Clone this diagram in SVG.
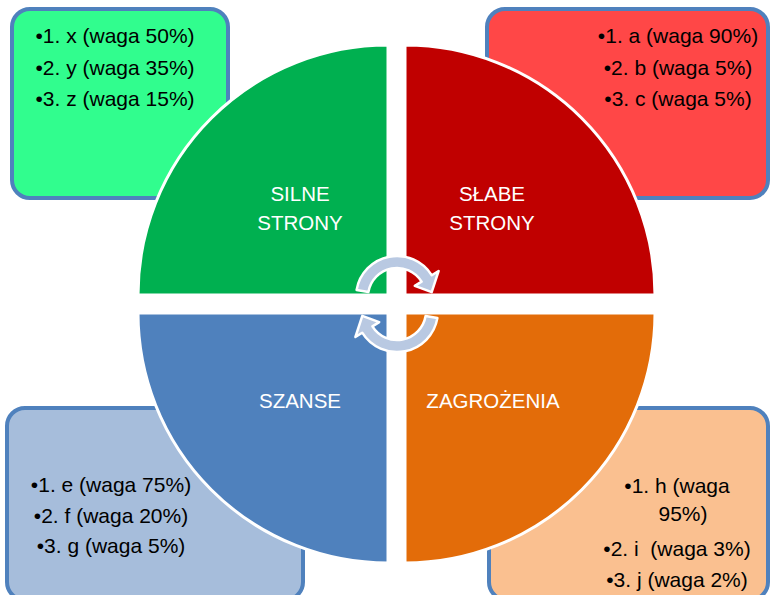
<svg xmlns="http://www.w3.org/2000/svg" width="770" height="595" viewBox="0 0 770 595">
  <style>
    .box { stroke: #4F81BD; stroke-width: 4; }
    .q { stroke: #FFFFFF; stroke-width: 3; stroke-linejoin: miter; }
    .t { font-family: "Liberation Sans", Arial, sans-serif; font-size: 21px; fill: #000000; text-anchor: middle; }
    .w { font-family: "Liberation Sans", Arial, sans-serif; font-size: 20.5px; fill: #FFFFFF; text-anchor: middle; }
    .arr { fill: #B9C9E2; stroke: #FFFFFF; stroke-width: 2.5; stroke-linejoin: round; }
  </style>
  <defs>
    <path id="carrow" d="M 356.6,289.9 A 41 41 0 0 1 431.8,275.3 L 438.6,271.0 L 431.7,292.1 L 414.8,285.9 L 421.6,281.6 A 29 29 0 0 0 368.4,292.0 Z"/>
  </defs>
  <rect width="770" height="595" fill="#FFFFFF"/>

  <g id="box-strengths">
    <rect class="box" x="12" y="9" width="216" height="189" rx="18" fill="#31FD8E"/>
    <text class="t" x="115" y="43">•1. x (waga 50%)</text>
    <text class="t" x="115" y="75">•2. y (waga 35%)</text>
    <text class="t" x="115" y="106">•3. z (waga 15%)</text>
  </g>
  <g id="box-weaknesses">
    <rect class="box" x="487" y="9" width="281" height="189" rx="18" fill="#FF4747"/>
    <text class="t" x="678" y="43">•1. a (waga 90%)</text>
    <text class="t" x="678" y="75">•2. b (waga 5%)</text>
    <text class="t" x="678" y="106">•3. c (waga 5%)</text>
  </g>
  <g id="box-opportunities">
    <rect class="box" x="7" y="408" width="296" height="192" rx="18" fill="#A6BDDB"/>
    <text class="t" x="111" y="492">•1. e (waga 75%)</text>
    <text class="t" x="111" y="523">•2. f (waga 20%)</text>
    <text class="t" x="111" y="553">•3. g (waga 5%)</text>
  </g>
  <g id="box-threats">
    <rect class="box" x="489" y="408" width="279" height="192" rx="18" fill="#FAC090"/>
    <text class="t" x="677" y="493">•1. h (waga</text>
    <text class="t" x="683" y="521">95%)</text>
    <text class="t" x="677" y="556" xml:space="preserve">•2. i  (waga 3%)</text>
    <text class="t" x="677" y="587">•3. j (waga 2%)</text>
  </g>

  <g id="q-strengths">
    <path class="q" d="M388,295 L138,295 A250,250 0 0 1 388,45 Z" fill="#00B050"/>
    <text class="w" x="300" y="201">SILNE</text>
    <text class="w" x="300" y="230">STRONY</text>
  </g>
  <g id="q-weaknesses">
    <path class="q" d="M405,295 L405,45 A250,250 0 0 1 655,295 Z" fill="#C00000"/>
    <text class="w" x="492" y="201">SŁABE</text>
    <text class="w" x="492" y="230">STRONY</text>
  </g>
  <g id="q-opportunities">
    <path class="q" d="M388,313 L388,563 A250,250 0 0 1 138,313 Z" fill="#4F81BD"/>
    <text class="w" x="300" y="408">SZANSE</text>
  </g>
  <g id="q-threats">
    <path class="q" d="M405,313 L655,313 A250,250 0 0 1 405,563 Z" fill="#E36C09"/>
    <text class="w" x="493" y="408">ZAGROŻENIA</text>
  </g>

  <g id="connectors">
    <use href="#carrow" class="arr"/>
    <use href="#carrow" class="arr" transform="rotate(180 397 304)"/>
  </g>
</svg>
